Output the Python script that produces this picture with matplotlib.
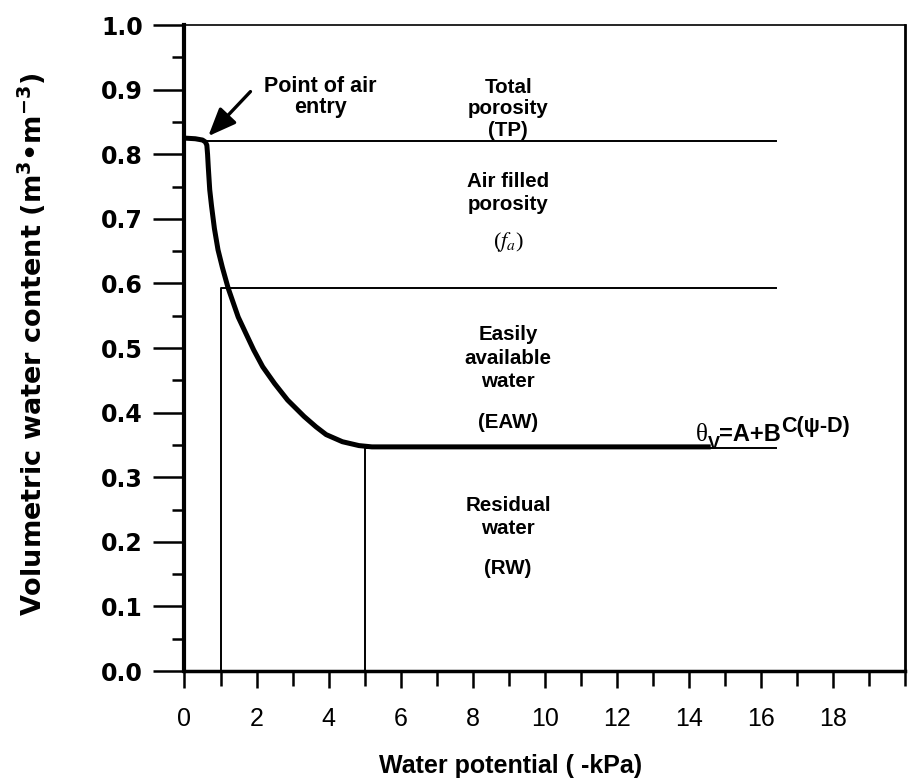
import matplotlib
matplotlib.use('Agg')
import matplotlib.pyplot as plt
from matplotlib.ticker import MultipleLocator

plt.rcParams['font.family'] = ['Liberation Sans', 'DejaVu Sans']
plt.rcParams['mathtext.fontset'] = 'custom'
plt.rcParams['mathtext.rm'] = 'DejaVu Sans'
plt.rcParams['mathtext.it'] = 'DejaVu Sans'
plt.rcParams['mathtext.bf'] = 'DejaVu Sans:bold'

# retention curve
psi = [0.0, 0.3, 0.5, 0.58, 0.62, 0.64, 0.66, 0.70, 0.75, 0.83, 0.93, 1.05,
       1.21, 1.49, 1.70, 1.92, 2.17, 2.5, 2.86, 3.32, 3.65, 3.93, 4.38,
       4.84, 5.2, 14.6]
theta = [0.825, 0.824, 0.822, 0.819, 0.814, 0.80, 0.78, 0.745, 0.72, 0.685,
         0.652, 0.625, 0.593, 0.548, 0.523, 0.497, 0.471, 0.445, 0.4195,
         0.394, 0.378, 0.366, 0.355, 0.349, 0.347, 0.347]

# boundaries of the water fractions
tp_level = 0.82
afp_level = 0.593
rw_level = 0.345
psi_air = 0.6
psi_fc = 1.0
psi_end = 5.0
psi_right = 16.4

region_labels = ['Total\nporosity', '(TP)', 'Air filled\nporosity',
                 'Easily\navailable\nwater', '(EAW)', 'Residual\nwater', '(RW)']
label_y = [0.887, 0.837, 0.74, 0.4845, 0.385, 0.239, 0.159]
label_gap = [1.1, 1.1, 1.3, 1.3, 1.1, 1.28, 1.1]
label_x = 8.98

fig = plt.figure(figsize=(9.12, 7.83), dpi=100)
ax = fig.add_axes([0.2023, 0.143, 0.7904, 0.825])

# thin boundary lines
ax.plot([psi_air, psi_right], [tp_level, tp_level], color='black', lw=1.4)
ax.plot([psi_fc, psi_fc, psi_right], [0, afp_level, afp_level], color='black', lw=1.4)
ax.plot([psi_end, psi_end, psi_right], [0, rw_level, rw_level], color='black', lw=1.4)

# curve
ax.plot(psi, theta, color='black', lw=3.6, solid_capstyle='butt',
        solid_joinstyle='round')

# region texts
for txt, yy, gap in zip(region_labels, label_y, label_gap):
    ax.text(label_x, yy, txt, ha='center', va='center', fontsize=14.8,
            fontweight='bold', linespacing=gap)
ax.text(label_x, 0.664, r'($f_a$)', ha='center', va='center', fontsize=16,
        family='Liberation Serif', math_fontfamily='stix')

# equation, built from pieces
t1 = ax.text(14.18, 0.356, 'θ', ha='left', va='baseline', fontsize=18,
             family='Liberation Serif')
t2 = ax.annotate('V', xy=(1.0, 0.05), xycoords=t1, ha='left', va='center',
                 fontsize=13, fontweight='bold')
t3 = ax.annotate('=A+B', xy=(1.0, 0.0), xycoords=(t2, t1), ha='left',
                 va='bottom', fontsize=17, fontweight='bold')
t4 = ax.annotate('C(ψ-D)', xy=(1.0, 0.38), xycoords=t3, ha='left',
                 va='bottom', fontsize=15.5, fontweight='bold')

ax.text(3.77, 0.889, 'Point of air\nentry', ha='center', va='center',
        fontsize=15.5, fontweight='bold', linespacing=0.98)
ax.annotate('', xy=(0.66, 0.828), xytext=(1.83, 0.897),
            arrowprops=dict(arrowstyle='-|>,head_length=0.85,head_width=0.35',
                            mutation_scale=20, color='black', lw=2.4,
                            shrinkA=0, shrinkB=0))

ax.set_xlim(0, 20)
ax.set_ylim(0, 1.0)
ax.xaxis.set_minor_locator(MultipleLocator(1))
ax.yaxis.set_minor_locator(MultipleLocator(0.05))
ax.set_xticks(range(0, 20, 2))
ax.set_xticklabels([str(v) for v in range(0, 20, 2)])
ax.set_yticks([i / 10 for i in range(11)])
ax.set_yticklabels(['%.1f' % (i / 10) for i in range(11)])

ax.tick_params(axis='y', which='major', length=22, width=1.8, labelsize=17,
               pad=8, direction='out')
ax.tick_params(axis='y', which='minor', length=9, width=1.8, direction='out')
ax.tick_params(axis='x', which='major', length=12, width=1.8, labelsize=18,
               pad=14, direction='out')
ax.tick_params(axis='x', which='minor', length=11, width=1.8, direction='out')
for lab in ax.get_yticklabels():
    lab.set_fontweight('bold')
    lab.set_fontfamily('DejaVu Sans')

ax.spines['left'].set_linewidth(3.0)
ax.spines['bottom'].set_linewidth(2.5)
ax.spines['right'].set_linewidth(2.0)
ax.spines['top'].set_linewidth(1.2)

ax.set_xlabel('Water potential ( -kPa)', fontsize=18, fontweight='bold')
ax.xaxis.set_label_coords(0.452, -0.128)
ax.set_ylabel(r'Volumetric water content (m$^\mathbf{3}$•m$^\mathbf{-3}$)',
              fontsize=19.5, fontweight='bold', family='DejaVu Sans')
ax.yaxis.set_label_coords(-0.19, 0.505)

fig.savefig('out.png', dpi=100)
